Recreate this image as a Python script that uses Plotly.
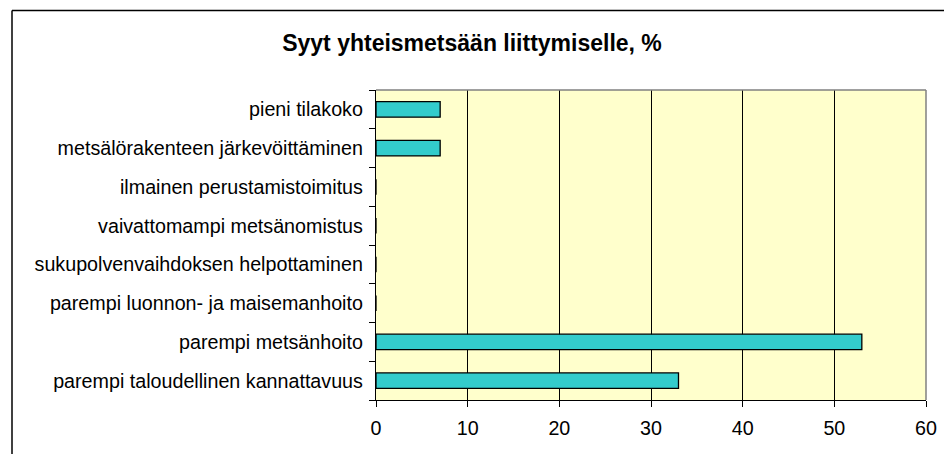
import plotly.graph_objects as go

# Data (bottom to top)
categories = [
    "parempi taloudellinen kannattavuus",
    "parempi metsänhoito",
    "parempi luonnon- ja maisemanhoito",
    "sukupolvenvaihdoksen helpottaminen",
    "vaivattomampi metsänomistus",
    "ilmainen perustamistoimitus",
    "metsälörakenteen järkevöittäminen",
    "pieni tilakoko",
]
values = [33, 53, 0, 0, 0, 0, 7, 7]
x_ticks = [0, 10, 20, 30, 40, 50, 60]

# page body has an 8px margin, so the figure is a bit smaller than the window
W, H = 944, 446
left, right, top, bottom = 368, 26, 82, 54
plot_w = W - left - right
plot_h = H - top - bottom

fig = go.Figure()

fig.add_trace(go.Bar(
    x=values,
    y=categories,
    orientation='h',
    width=0.4,
    marker=dict(color='#33CCCC', line=dict(color='#000000', width=1.3)),
    hoverinfo='x+y',
))

# Outer chart border (only left and top edges are visible in the crop)
bx = (4 - left) / plot_w
by = (H - bottom - 2.5) / plot_h
fig.add_shape(type='line', xref='paper', yref='paper', x0=bx, x1=bx, y0=by, y1=-1,
              line=dict(color='#000000', width=1.5))
fig.add_shape(type='line', xref='paper', yref='paper', x0=bx, x1=3, y0=by, y1=by,
              line=dict(color='#000000', width=1.5))

# Gray border on top/right of the plot area
fig.add_shape(type='line', xref='paper', yref='paper', x0=0, x1=1, y0=1, y1=1,
              line=dict(color='#808080', width=1.5))
fig.add_shape(type='line', xref='paper', yref='paper', x0=1, x1=1, y0=0, y1=1,
              line=dict(color='#808080', width=1.5))

fig.update_layout(
    width=W,
    height=H,
    margin=dict(l=left, r=right, t=top, b=bottom),
    paper_bgcolor='#FFFFFF',
    plot_bgcolor='#FFFFCC',
    font=dict(family='Liberation Sans, Arial, sans-serif', size=19.7, color='#000000'),
    showlegend=False,
    title=dict(
        text='<b>Syyt yhteismetsään liittymiselle, %</b>',
        font=dict(size=23, color='#000000'),
        x=464 / W, xanchor='center',
        y=1 - 35 / H, yanchor='middle', yref='container',
    ),
    xaxis=dict(
        range=[0, 60],
        tickvals=x_ticks,
        ticks='outside', ticklen=6, tickcolor='#000000',
        showgrid=True, gridcolor='#000000', gridwidth=1,
        showline=True, linecolor='#000000', linewidth=1.3,
        zeroline=False,
        tickfont=dict(size=19.7),
        ticklabelstandoff=4,
        fixedrange=True,
    ),
    yaxis=dict(
        type='category',
        categoryorder='array', categoryarray=categories,
        tickson='boundaries',
        ticks='outside', ticklen=6, tickcolor='#000000',
        showgrid=False,
        showline=True, linecolor='#000000', linewidth=1.3,
        tickfont=dict(size=19.7),
        ticklabelstandoff=8,
        fixedrange=True,
    ),
)

fig.write_html("out.html")
